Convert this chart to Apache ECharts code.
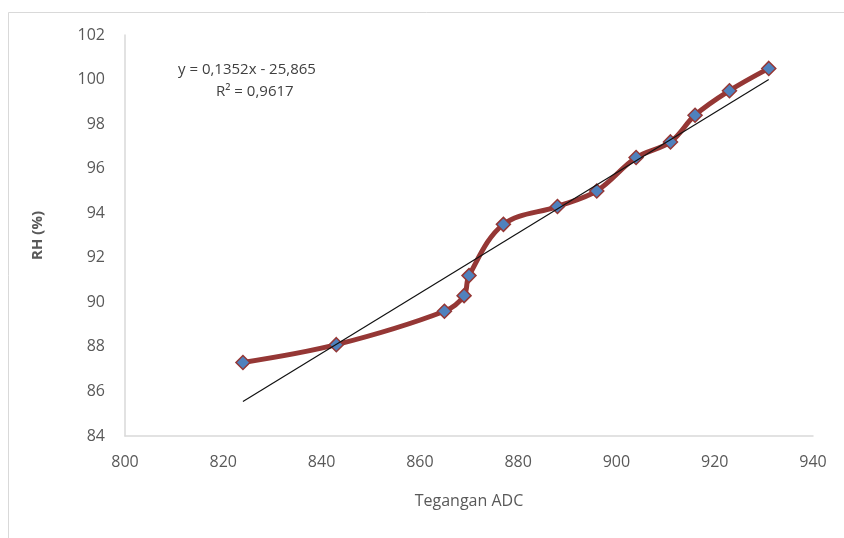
<!DOCTYPE html>
<html>
<head>
<meta charset="utf-8">
<script src="https://cdn.jsdelivr.net/npm/echarts@6/dist/echarts.min.js"></script>
<style>
  html, body { margin: 0; padding: 0; background: #fff; }
  #chart { width: 844px; height: 538px; }
</style>
</head>
<body>
<div id="chart"></div>
<script>
// Measured points (Tegangan ADC vs RH)
const adc = [824, 843, 865, 869, 870, 877, 888, 896, 904, 911, 916, 923, 931];
const rh = [87.3, 88.1, 89.6, 90.3, 91.2, 93.5, 94.3, 95.0, 96.5, 97.2, 98.4, 99.5, 100.5];

// Linear trendline end points, as drawn
const trendX = [824, 931];
const trendY = [85.55, 100.0];

const equationText = 'y = 0,1352x - 25,865';
const r2Text = 'R² = 0,9617';

const font = "'Open Sans', sans-serif";

const chart = echarts.init(document.getElementById('chart'));
chart.setOption({
    animation: false,
    backgroundColor: '#fff',
    grid: { left: 125, right: 31, top: 35, bottom: 102 },
    xAxis: {
        type: 'value',
        min: 800,
        max: 940,
        interval: 20,
        name: 'Tegangan ADC',
        nameLocation: 'middle',
        nameGap: 57,
        nameTextStyle: { color: '#595959', fontSize: 16, fontFamily: font },
        axisLine: { show: true, lineStyle: { color: '#d9d9d9', width: 1.5 } },
        axisTick: { show: false },
        axisLabel: { color: '#595959', fontSize: 16, fontFamily: font, margin: 18 },
        splitLine: { show: false }
    },
    yAxis: {
        type: 'value',
        min: 84,
        max: 102,
        interval: 2,
        name: 'RH (%)',
        nameLocation: 'middle',
        nameGap: 80,
        nameTextStyle: { color: '#595959', fontSize: 15, fontWeight: 'bold', fontFamily: font },
        axisLine: { show: true, lineStyle: { color: '#d9d9d9', width: 1.5 } },
        axisTick: { show: false },
        axisLabel: { color: '#595959', fontSize: 16, fontFamily: font, margin: 20 },
        splitLine: { show: false }
    },
    graphic: [
        {
            type: 'rect',
            shape: { x: 8.5, y: 12.5, width: 850, height: 540 },
            style: { fill: 'none', stroke: '#d9d9d9', lineWidth: 1 },
            silent: true
        },
        {
            type: 'text',
            left: 178,
            top: 62,
            style: { text: equationText, fill: '#404040', font: '15px ' + font }
        },
        {
            type: 'text',
            left: 216,
            top: 84,
            style: { text: r2Text, fill: '#404040', font: '15px ' + font }
        }
    ],
    series: [
        {
            name: 'Trend',
            type: 'line',
            data: trendX.map((x, i) => [x, trendY[i]]),
            symbol: 'none',
            lineStyle: { color: '#111', width: 1.2 },
            z: 3
        },
        {
            name: 'RH',
            type: 'line',
            data: adc.map((x, i) => [x, rh[i]]),
            smooth: 0.35,
            symbol: 'diamond',
            symbolSize: 14,
            lineStyle: { color: '#953735', width: 5 },
            itemStyle: { color: '#4f81bd', borderColor: '#953735', borderWidth: 1.5 },
            z: 2
        }
    ]
});
</script>
</body>
</html>
